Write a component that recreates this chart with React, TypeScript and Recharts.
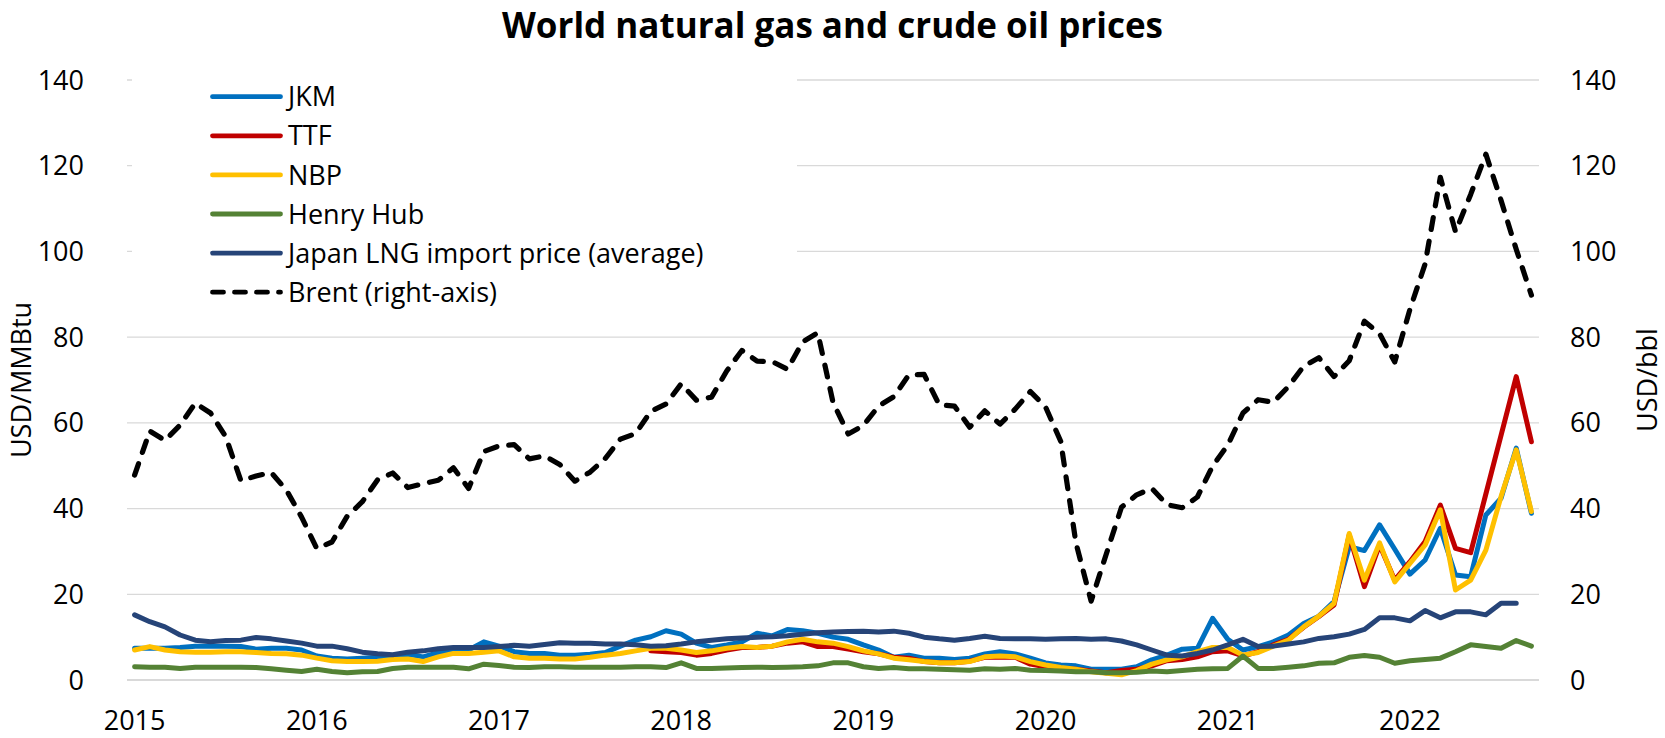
import React from 'react';
import { LineChart, Line, XAxis, YAxis, CartesianGrid, Legend } from 'recharts';

const years = ['2015', '2016', '2017', '2018', '2019', '2020', '2021', '2022'];
const yTicks = [0, 20, 40, 60, 80, 100, 120, 140];

const jkm = [
  7.4, 7.4, 7.4, 7.6, 7.9, 7.9, 7.9, 7.8, 7.2, 7.4, 7.4, 7.0,
  5.6, 5.1, 4.9, 5.1, 5.3, 5.4, 6.0, 5.4, 6.4, 6.8, 7.0, 8.9,
  7.9, 6.6, 6.2, 6.2, 5.8, 5.8, 6.0, 6.4, 7.9, 9.3, 10.1, 11.5,
  10.7, 8.6, 7.6, 8.2, 8.9, 10.9, 10.3, 11.8, 11.5, 10.9, 10.0, 9.5,
  8.2, 7.0, 5.3, 5.8, 5.1, 5.1, 4.8, 5.1, 6.1, 6.6, 6.1, 5.1,
  4.0, 3.5, 3.3, 2.5, 2.5, 2.5, 3.1, 4.7, 5.8, 7.2, 7.4, 14.4,
  9.5, 7.0, 7.8, 8.9, 10.5, 13.2, 14.9, 18.3, 31.1, 30.2, 36.2, 30.5,
  24.7, 28.0, 35.4, 24.5, 24.1, 38.5, 42.4, 54.1, 38.9,
];

const ttf = [
  null, null, null, null, null, null, null, null, null, null, null, null,
  null, null, null, null, null, null, null, null, null, null, null, null,
  null, null, null, null, null, null, null, null, null, null, 6.8, 6.6,
  6.4, 5.8, 6.2, 7.0, 7.6, 7.6, 7.9, 8.6, 8.9, 7.8, 7.8, 7.2,
  6.6, 6.1, 5.3, 5.1, 4.3, 4.0, 4.0, 4.4, 5.3, 5.3, 5.3, 3.7,
  3.1, 2.7, 2.5, 2.1, 1.7, 2.2, 2.5, 3.3, 4.5, 4.8, 5.4, 6.6,
  6.8, 5.6, 6.6, 8.2, 9.5, 12.3, 14.8, 17.5, 33.8, 21.8, 31.5, 23.3,
  27.6, 32.3, 40.8, 30.7, 29.7, 43.4, 57.1, 70.8, 55.6,
];

const nbp = [
  7.0, 7.8, 7.0, 6.6, 6.5, 6.5, 6.6, 6.6, 6.4, 6.2, 6.1, 5.8,
  5.1, 4.5, 4.3, 4.3, 4.4, 4.8, 4.9, 4.3, 5.4, 6.2, 6.2, 6.5,
  6.8, 5.4, 5.1, 5.1, 4.9, 4.9, 5.3, 5.8, 6.2, 6.8, 7.4, 7.4,
  7.0, 6.4, 6.8, 7.4, 7.8, 7.6, 7.9, 8.9, 9.5, 8.9, 8.6, 7.8,
  6.8, 6.1, 5.1, 4.7, 4.3, 4.0, 4.0, 4.3, 5.4, 5.6, 5.4, 4.3,
  3.5, 2.9, 2.5, 1.9, 1.6, 1.2, 2.2, 3.7, 4.7, 5.4, 6.6, 7.6,
  7.6, 5.8, 6.4, 7.9, 9.3, 12.4, 14.9, 17.9, 34.2, 23.3, 32.0, 22.9,
  27.2, 31.5, 39.7, 21.0, 23.3, 30.3, 42.8, 53.7, 39.3,
];

const henryHub = [
  3.1, 3.0, 3.0, 2.7, 3.0, 3.0, 3.0, 3.0, 2.9, 2.6, 2.3, 2.0,
  2.5, 2.0, 1.7, 1.9, 2.0, 2.7, 3.0, 3.0, 3.0, 3.0, 2.6, 3.7,
  3.4, 3.0, 2.9, 3.1, 3.1, 3.0, 3.0, 3.0, 3.0, 3.1, 3.1, 2.9,
  4.0, 2.7, 2.7, 2.8, 2.9, 3.0, 2.9, 3.0, 3.1, 3.3, 4.0, 4.0,
  3.1, 2.7, 2.9, 2.6, 2.6, 2.5, 2.4, 2.3, 2.6, 2.5, 2.7, 2.3,
  2.2, 2.1, 1.9, 1.9, 1.7, 1.7, 1.8, 2.1, 1.9, 2.2, 2.5, 2.6,
  2.7, 5.6, 2.7, 2.7, 3.0, 3.3, 3.9, 4.0, 5.3, 5.7, 5.3, 3.9,
  4.5, 4.8, 5.1, 6.6, 8.2, 7.8, 7.4, 9.2, 7.9,
];

const japanLng = [
  15.2, 13.6, 12.4, 10.5, 9.3, 8.9, 9.2, 9.3, 9.9, 9.6, 9.1, 8.6,
  7.9, 7.9, 7.3, 6.5, 6.1, 5.9, 6.5, 6.8, 7.3, 7.6, 7.6, 7.6,
  7.8, 8.1, 7.9, 8.3, 8.7, 8.6, 8.6, 8.4, 8.4, 8.2, 7.9, 8.0,
  8.4, 8.9, 9.3, 9.6, 9.8, 10.0, 10.1, 10.3, 10.7, 11.0, 11.2, 11.3,
  11.4, 11.2, 11.4, 10.9, 10.0, 9.6, 9.3, 9.7, 10.2, 9.7, 9.6, 9.6,
  9.5, 9.6, 9.7, 9.5, 9.6, 9.1, 8.2, 7.0, 5.8, 5.6, 6.2, 7.0,
  8.2, 9.5, 7.8, 7.9, 8.4, 8.9, 9.7, 10.1, 10.7, 11.8, 14.5, 14.5,
  13.8, 16.2, 14.5, 15.9, 15.9, 15.2, 17.9, 17.9, null,
];

const brent = [
  47.8, 58.1, 55.9, 59.5, 64.6, 62.3, 56.8, 46.5, 47.6, 48.4, 44.3, 38.0,
  30.7, 32.2, 38.2, 41.6, 46.7, 48.3, 44.9, 45.8, 46.6, 49.5, 44.7, 53.3,
  54.6, 54.9, 51.6, 52.3, 50.3, 46.4, 48.5, 51.7, 56.2, 57.5, 62.7, 64.4,
  69.1, 65.3, 66.0, 72.1, 76.9, 74.4, 74.3, 72.5, 78.9, 81.0, 64.8, 57.4,
  59.4, 63.9, 66.1, 71.2, 71.3, 64.2, 63.9, 59.0, 62.8, 59.7, 63.2, 67.3,
  63.7, 55.7, 32.0, 18.4, 29.4, 40.3, 43.2, 44.7, 40.9, 40.2, 42.7, 49.9,
  54.8, 62.3, 65.4, 64.8, 68.5, 73.2, 75.2, 70.8, 74.5, 83.7, 80.8, 74.2,
  86.5, 97.1, 117.3, 104.6, 113.3, 122.7, 111.9, 100.5, 89.8,
];

const series = [
  { key: 'jkm', name: 'JKM', color: '#0070C0', axis: 'left', dashed: false },
  { key: 'ttf', name: 'TTF', color: '#C00000', axis: 'left', dashed: false },
  { key: 'nbp', name: 'NBP', color: '#FFC000', axis: 'left', dashed: false },
  { key: 'hh', name: 'Henry Hub', color: '#548235', axis: 'left', dashed: false },
  { key: 'jp', name: 'Japan LNG import price (average)', color: '#264478', axis: 'left', dashed: false },
  { key: 'brent', name: 'Brent (right-axis)', color: '#000000', axis: 'right', dashed: true },
];

const data = brent.map((b, i) => ({
  i,
  jkm: jkm[i],
  ttf: ttf[i],
  nbp: nbp[i],
  hh: henryHub[i],
  jp: japanLng[i],
  brent: b,
}));

const FONT = '"Open Sans", "Noto Sans", sans-serif';
const W = 1665;
const H = 738;
const DASH = '12 12';
const SW = 5;

const LegendBox = () => {
  const fs = 27;
  return (
    <svg width={665} height={250} style={{ display: 'block', background: '#fff' }}>
      {series.map((s, k) => {
        const cy = 26.7 + 39.1 * k;
        return (
          <g key={s.key}>
            <line
              x1={80.5}
              x2={148.5}
              y1={cy}
              y2={cy}
              stroke={s.color}
              strokeWidth={4.8}
              strokeLinecap="round"
              strokeDasharray={s.dashed ? '11 11' : undefined}
            />
            <text x={156} y={cy + 0.357 * fs} fontSize={fs} fill="#000" fontFamily={FONT}>
              {s.name}
            </text>
          </g>
        );
      })}
    </svg>
  );
};

const LeftAxisLabel = (props: any) => {
  const vb = props.viewBox || {};
  const cy = vb.y + vb.height / 2;
  return (
    <text transform={`translate(21, ${cy}) rotate(-90)`} textAnchor="middle" y={0.357 * 27} fontSize={27} fill="#000" fontFamily={FONT}>
      USD/MMBtu
    </text>
  );
};

const RightAxisLabel = (props: any) => {
  const vb = props.viewBox || {};
  const cy = vb.y + vb.height / 2;
  return (
    <text transform={`translate(1647, ${cy}) rotate(-90)`} textAnchor="middle" y={0.357 * 27} fontSize={27} fill="#000" fontFamily={FONT}>
      USD/bbl
    </text>
  );
};

export default function App() {
  return (
    <div style={{ position: 'absolute', left: 0, top: 0, width: W, height: H, background: '#fff', fontFamily: FONT, overflow: 'hidden' }}>
      <div
        style={{
          position: 'absolute',
          left: 0,
          top: 7,
          width: W,
          textAlign: 'center',
          fontSize: 35,
          lineHeight: '35px',
          fontWeight: 700,
          color: '#000',
          zIndex: 2,
        }}
      >
        World natural gas and crude oil prices
      </div>
      <LineChart width={W} height={H} data={data} margin={{ top: 80, right: 0, bottom: 0, left: 0 }}>
        <CartesianGrid yAxisId="left" vertical={false} stroke="#D9D9D9" strokeWidth={1.3} />
        <XAxis
          dataKey="i"
          type="number"
          domain={[-0.5, 92.5]}
          ticks={years.map((_, k) => k * 12)}
          tickFormatter={(v: number) => years[Math.round(v / 12)]}
          interval={0}
          height={58}
          tickLine={false}
          tickSize={0}
          tickMargin={31}
          axisLine={{ stroke: '#D9D9D9', strokeWidth: 2 }}
          tick={{ fill: '#000', fontSize: 27 }}
        />
        <YAxis
          yAxisId="left"
          domain={[0, 140]}
          ticks={yTicks}
          width={127}
          axisLine={false}
          tickLine={false}
          tickSize={0}
          tickMargin={43}
          tick={{ fill: '#000', fontSize: 27 }}
          label={{ content: LeftAxisLabel }}
        />
        <YAxis
          yAxisId="right"
          orientation="right"
          domain={[0, 140]}
          ticks={yTicks}
          width={126}
          axisLine={false}
          tickLine={false}
          tickSize={0}
          tickMargin={31}
          tick={{ fill: '#000', fontSize: 27, textAnchor: 'start' }}
          label={{ content: RightAxisLabel }}
        />
        <Legend
          layout="vertical"
          align="center"
          verticalAlign="middle"
          content={() => <LegendBox />}
          wrapperStyle={{ left: 132, top: 70, width: 665, height: 250, background: '#fff' }}
        />
        {series.map((s) => (
          <Line
            key={s.key}
            yAxisId={s.axis}
            dataKey={s.key}
            name={s.name}
            type="linear"
            stroke={s.color}
            strokeWidth={s.dashed ? 5.2 : SW}
            strokeLinecap="round"
            strokeLinejoin="round"
            strokeDasharray={s.dashed ? DASH : undefined}
            dot={false}
            activeDot={false}
            isAnimationActive={false}
          />
        ))}
      </LineChart>
    </div>
  );
}
